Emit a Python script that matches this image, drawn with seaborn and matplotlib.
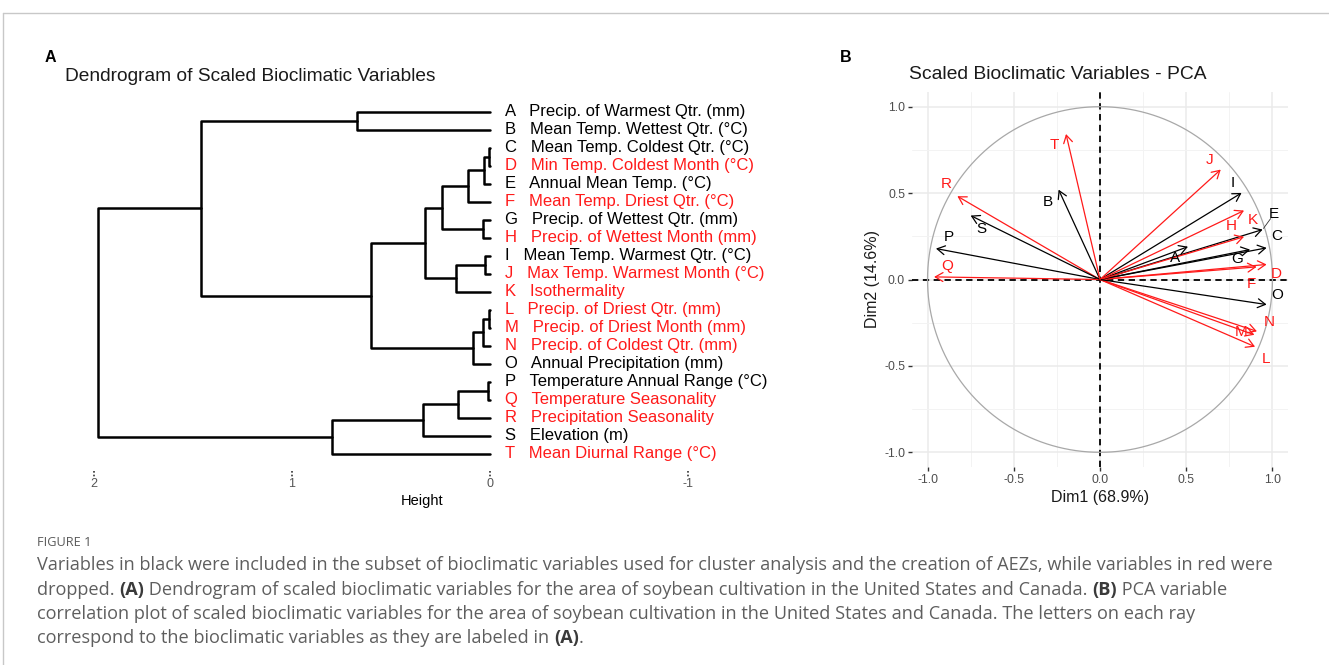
import numpy as np
import pandas as pd
import matplotlib
matplotlib.use("Agg")
import matplotlib.pyplot as plt
import seaborn as sns

# ---------------- data ----------------
leaf_codes = list("ABCDEFGHIJKLMNOPQRST")
leaf_names = [
    "Precip. of Warmest Qtr. (mm)", "Mean Temp. Wettest Qtr. (°C)",
    "Mean Temp. Coldest Qtr. (°C)", "Min Temp. Coldest Month (°C)",
    "Annual Mean Temp. (°C)", "Mean Temp. Driest Qtr. (°C)",
    "Precip. of Wettest Qtr. (mm)", "Precip. of Wettest Month (mm)",
    "Mean Temp. Warmest Qtr. (°C)", "Max Temp. Warmest Month (°C)",
    "Isothermality", "Precip. of Driest Qtr. (mm)",
    "Precip. of Driest Month (mm)", "Precip. of Coldest Qtr. (mm)",
    "Annual Precipitation (mm)", "Temperature Annual Range (°C)",
    "Temperature Seasonality", "Precipitation Seasonality",
    "Elevation (m)", "Mean Diurnal Range (°C)",
]
kept = [True, True, True, False, True, False, True, False, True, False,
        False, False, False, False, True, True, False, False, True, False]

merge_left = ["C", "CD", "CDE", "G", "CDEF", "I", "IJ", "CDEFGH", "L", "LM",
              "LMN", "CDEFGHIJK", "A", "AB", "P", "PQ", "PQR", "PQRS",
              "ABCDEFGHIJKLMNO"]
merge_right = ["D", "E", "F", "H", "GH", "J", "K", "IJK", "M", "N",
               "O", "LMNO", "B", "CDEFGHIJKLMNO", "Q", "R", "S", "T",
               "PQRST"]
merge_height = [0.005, 0.03, 0.11, 0.035, 0.24, 0.025, 0.17, 0.33, 0.005,
                0.035, 0.085, 0.60, 0.67, 1.46, 0.01, 0.16, 0.34, 0.80, 1.98]
height_ticks = [2, 1, 0, -1]

pca_dim1 = [0.51, -0.24, 0.966, 0.966, 0.943, 0.908, 0.870, 0.835, 0.821, 0.700,
            0.835, 0.899, 0.895, 0.910, 0.966, -0.951, -0.962, -0.827, -0.750, -0.197]
pca_dim2 = [0.19, 0.52, 0.183, 0.087, 0.289, 0.073, 0.173, 0.247, 0.501, 0.636,
            0.399, -0.389, -0.320, -0.300, -0.145, 0.179, 0.015, 0.482, 0.370, 0.842]
dim1_pct = 68.9
dim2_pct = 14.6
pca_ticks = [-1.0, -0.5, 0.0, 0.5, 1.0]

# label offsets (pixels, x right / y up) relative to arrow tips
label_offsets = {
    "T": (-12, -11), "B": (-11, -12), "R": (-11, 12), "S": (11, -13),
    "P": (13, 12), "Q": (13, 11), "J": (-11, 10), "I": (-9, 10),
    "H": (-13, 11), "K": (9, -9), "E": (11, 16), "C": (10, 12),
    "A": (-13, -11), "G": (-13, -9), "D": (10, -10), "F": (-5, -17),
    "O": (11, 10), "N": (12, 9), "M": (-13, 3), "L": (11, -12),
}

caption_head = "FIGURE 1"
caption_lines = [
    [("Variables in black were included in the subset of bioclimatic variables used for cluster analysis and the creation of AEZs, while variables in red were", False)],
    [("dropped. ", False), ("(A)", True),
     (" Dendrogram of scaled bioclimatic variables for the area of soybean cultivation in the United States and Canada. ", False),
     ("(B)", True), (" PCA variable", False)],
    [("correlation plot of scaled bioclimatic variables for the area of soybean cultivation in the United States and Canada. The letters on each ray", False)],
    [("correspond to the bioclimatic variables as they are labeled in ", False), ("(A)", True), (".", False)],
]

RED = "#FF1A1A"
W, H = 1329, 665

sns.set_theme(style="white")
plt.rcParams["font.family"] = ["Liberation Sans", "DejaVu Sans"]

fig = plt.figure(figsize=(W / 100, H / 100), dpi=100)


def fx(px):
    return px / W


def fy(py):
    return 1 - py / H


# frame lines
fig.add_artist(plt.Line2D([fx(3), 1], [fy(13), fy(13)], color="#C8C8C8", lw=1))
fig.add_artist(plt.Line2D([fx(3), fx(3)], [fy(13), 0], color="#C8C8C8", lw=1))

# ---------------- dendrogram ----------------
L_, R_, T_, B_ = 80, 700, 95, 510
ax1 = fig.add_axes([fx(L_), fy(B_), fx(R_) - fx(L_), fy(T_) - fy(B_)])
pos = {c: i for i, c in enumerate(leaf_codes)}
hgt = {c: 0.0 for c in leaf_codes}
rows = []
for k, (l, r, h) in enumerate(zip(merge_left, merge_right, merge_height)):
    xs = [hgt[l], h, h, hgt[r]]
    ys = [pos[l], pos[l], pos[r], pos[r]]
    for j, (x, y) in enumerate(zip(xs, ys)):
        rows.append(dict(seg=k, order=j, height=x, leaf=y))
    pos[l + r] = (pos[l] + pos[r]) / 2
    hgt[l + r] = h
dend = pd.DataFrame(rows)
sns.lineplot(data=dend, x="height", y="leaf", units="seg", estimator=None,
             sort=False, color="black", lw=1.8, ax=ax1)
ax1.set_xlim((490 - L_) / 198, (490 - R_) / 198)
ax1.set_ylim((B_ - 112) / 18, (T_ - 112) / 18)
ax1.axis("off")
for i, (c, nm, k) in enumerate(zip(leaf_codes, leaf_names, kept)):
    ax1.text(-0.075, i, f"{c}   {nm}", ha="left", va="center", fontsize=12,
             color="black" if k else RED)
for t in height_ticks:
    ax1.plot([t, t], [(471 - 112) / 18, (477 - 112) / 18], color="#333333",
             lw=1.2, ls=(0, (1, 1.2)))
    ax1.text(t, (484 - 112) / 18, str(t), ha="center", va="center",
             fontsize=9, color="#555555")
ax1.text((490 - 422) / 198, (501 - 112) / 18, "Height", ha="center",
         va="center", fontsize=10.5, color="black")

fig.text(fx(65), fy(81), "Dendrogram of Scaled Bioclimatic Variables",
         ha="left", va="baseline", fontsize=13.8, color="#1A1A1A")
fig.text(fx(45), fy(62), "A", ha="left", va="baseline", fontsize=11.5,
         fontweight="bold", color="black")

# ---------------- PCA ----------------
PL, PR, PT, PB = 912, 1288, 92, 467
ax2 = fig.add_axes([fx(PL), fy(PB), fx(PR) - fx(PL), fy(PT) - fy(PB)])
ax2.set_xlim(-1.09, 1.09)
ax2.set_ylim(-1.085, 1.085)
ax2.set_xticks(pca_ticks)
ax2.set_yticks(pca_ticks)
ax2.set_xticks([-0.75, -0.25, 0.25, 0.75], minor=True)
ax2.set_yticks([-0.75, -0.25, 0.25, 0.75], minor=True)
ax2.grid(which="major", color="#EBEBEB", lw=1.1)
ax2.grid(which="minor", color="#F3F3F3", lw=0.7)
ax2.set_axisbelow(True)
for s in ax2.spines.values():
    s.set_visible(False)
ax2.tick_params(which="major", length=3, width=1, color="#333333",
                labelcolor="#4D4D4D", labelsize=8.8, pad=2,
                bottom=True, left=True)
ax2.tick_params(which="minor", length=0)
ax2.set_xticklabels([f"{v:.1f}" for v in pca_ticks])
ax2.set_yticklabels([f"{v:.1f}" for v in pca_ticks])

theta = np.linspace(0, 2 * np.pi, 361)
circle = pd.DataFrame({"cx": np.cos(theta), "cy": np.sin(theta)})
sns.lineplot(data=circle, x="cx", y="cy", sort=False, estimator=None,
             color="#A8A8A8", lw=0.9, ax=ax2)
ax2.axhline(0, color="black", lw=1.3, ls=(0, (3.5, 2.5)), zorder=1)
ax2.axvline(0, color="black", lw=1.3, ls=(0, (3.5, 2.5)), zorder=1)

for c, x, y, k in zip(leaf_codes, pca_dim1, pca_dim2, kept):
    col = "black" if k else RED
    ax2.annotate("", xy=(x, y), xytext=(0, 0),
                 arrowprops=dict(arrowstyle="->,head_length=0.55,head_width=0.32",
                                 color=col, lw=0.9, shrinkA=0, shrinkB=0,
                                 mutation_scale=10), zorder=3)
    dx, dy = label_offsets[c]
    ax2.annotate(c, xy=(x, y), xytext=(dx, dy), textcoords="offset pixels",
                 ha="center", va="center", fontsize=11, color=col, zorder=4)
# repel segment for E
ie = leaf_codes.index("E")
ax2.annotate("", xy=(pca_dim1[ie], pca_dim2[ie]), xytext=(8, 11),
             textcoords="offset pixels",
             arrowprops=dict(arrowstyle="-", color="#333333", lw=0.6,
                             shrinkA=0, shrinkB=1))

ax2.set_xlabel(f"Dim1 ({dim1_pct}%)", fontsize=11.5, color="#1A1A1A", labelpad=3)
ax2.set_ylabel(f"Dim2 ({dim2_pct}%)", fontsize=11.5, color="#1A1A1A", labelpad=3)

fig.text(fx(909), fy(79), "Scaled Bioclimatic Variables - PCA", ha="left",
         va="baseline", fontsize=13.9, color="#1A1A1A")
fig.text(fx(840), fy(62), "B", ha="left", va="baseline", fontsize=11.5,
         fontweight="bold", color="black")

# ---------------- caption ----------------
fig.text(fx(37), fy(542), caption_head, ha="left", va="center", fontsize=9.2,
         color="#5A5A5A", family=["Open Sans", "DejaVu Sans"])
renderer = fig.canvas.get_renderer()
line_y = [565, 590, 614, 638]
for segs, yy in zip(caption_lines, line_y):
    x = 37
    for txt, bold in segs:
        t = fig.text(fx(x), fy(yy), txt, ha="left", va="center", fontsize=13.1,
                     color="#3A3A3A" if bold else "#5E5E5E",
                     fontweight="bold" if bold else "normal",
                     family=["Open Sans", "DejaVu Sans"])
        bb = t.get_window_extent(renderer=renderer)
        x += bb.width

fig.savefig("out.png", dpi=100)
